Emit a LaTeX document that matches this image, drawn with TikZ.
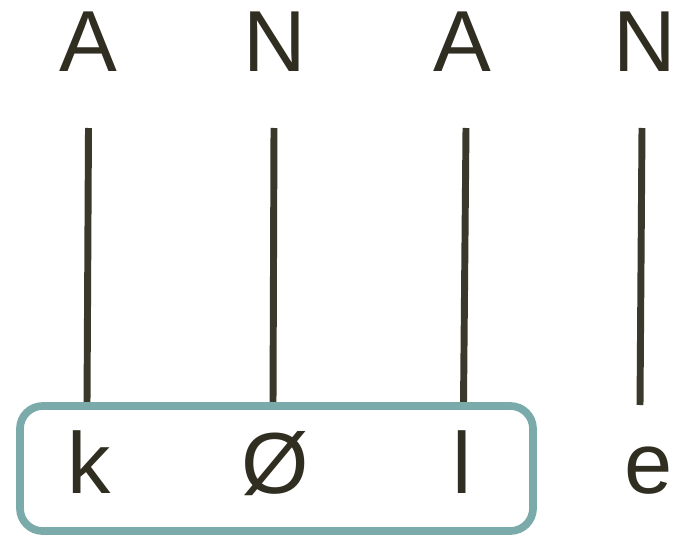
\documentclass[tikz,border=0pt]{standalone}
\usepackage{fontspec}
\setmainfont{Liberation Sans}
\definecolor{ink}{RGB}{48,45,33}
\definecolor{linec}{RGB}{58,55,43}
\definecolor{teal}{RGB}{122,170,170}
\begin{document}
\begin{tikzpicture}[x=0.75pt,y=-0.75pt,
  lab/.style={font=\fontsize{65}{78}\selectfont, text=ink, anchor=base, inner sep=0pt},
  stem/.style={draw=linec, line width=5.2pt},
  groupbox/.style={draw=teal, line width=5.8pt, rounded corners=17pt}]
\useasboundingbox (0,0) rectangle (674,535);
% top letters
\node[lab] (t1) at (88,71) {A};
\node[lab] (t2) at (275,71) {N};
\node[lab] (t3) at (462,71) {A};
\node[lab] (t4) at (645,71) {N};
% bottom letters
\node[lab] (b1) at (89,493) {k};
\node[lab] (b2) at (275,493) {Ø};
\node[lab] (b3) at (462,493) {l};
\node[lab] (b4) at (649,493) {e};
% line ends
\coordinate (u1) at (88.5,128);
\coordinate (d1) at (87,404);
\coordinate (u2) at (274,128);
\coordinate (d2) at (273,404);
\coordinate (u3) at (466,128);
\coordinate (d3) at (463.5,404);
\coordinate (u4) at (642,128);
\coordinate (d4) at (640,405);
\draw[stem] (u1) -- (d1);
\draw[stem] (u2) -- (d2);
\draw[stem] (u3) -- (d3);
\draw[stem] (u4) -- (d4);
% box
\draw[groupbox] (20,406) rectangle (533,531);
\end{tikzpicture}
\end{document}
